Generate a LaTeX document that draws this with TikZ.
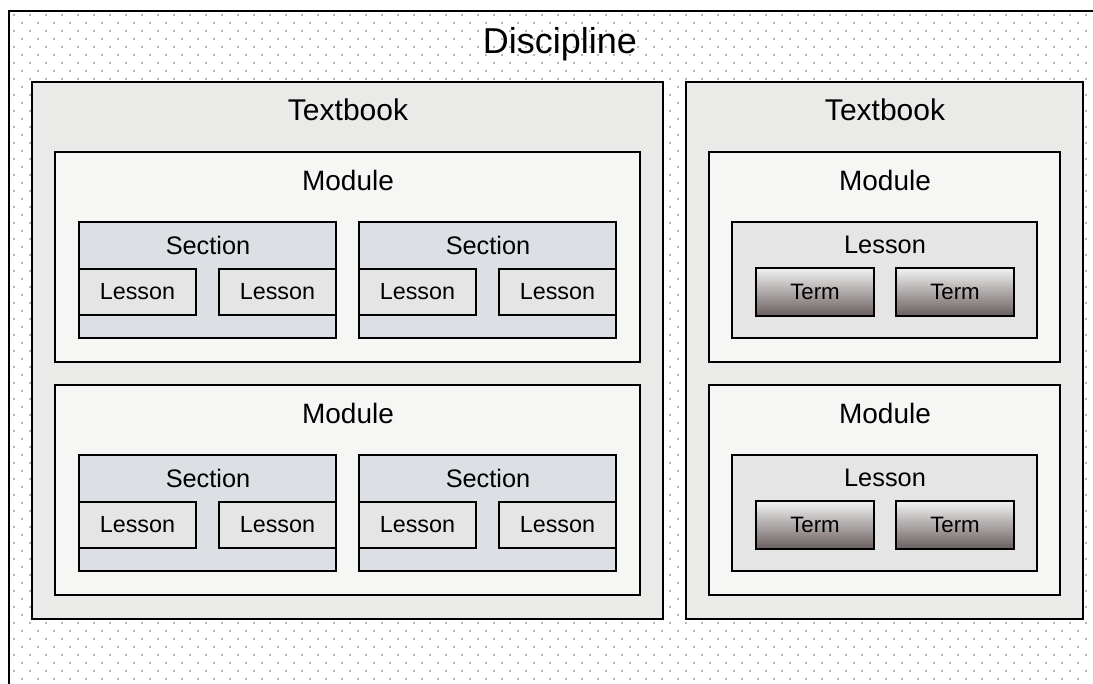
\documentclass[tikz,border=0pt]{standalone}
\usepackage{fontspec}
\setmainfont{Liberation Sans}
\usetikzlibrary{positioning}
\definecolor{dotgrey}{HTML}{6E6E6E}
\definecolor{tbfill}{HTML}{EAEAE8}
\definecolor{modfill}{HTML}{F6F6F4}
\definecolor{secfill}{HTML}{DCE0E4}
\definecolor{lesfill}{HTML}{E5E5E5}
\definecolor{termtop}{HTML}{F2F2F2}
\definecolor{termmid}{HTML}{DEDADA}
\definecolor{termbot}{HTML}{6A5E5E}
\tikzstyle{tbbox} = [draw=black, line width=1.2pt, fill=tbfill]
\tikzstyle{modbox} = [draw=black, line width=1.2pt, fill=modfill]
\tikzstyle{secbox} = [draw=black, line width=1.1pt, fill=secfill]
\tikzstyle{lesbox} = [draw=black, line width=1.1pt, fill=lesfill, rectangle, inner sep=0pt,
   minimum width=87.75pt, minimum height=34.5pt, font=\fontsize{17.5}{20}\selectfont]
\tikzstyle{termbox} = [draw=black, line width=1.1pt, rectangle, inner sep=0pt,
   top color=termtop, middle color=termmid, bottom color=termbot,
   minimum width=88.5pt, minimum height=36pt, font=\fontsize{16.7}{20}\selectfont]
\tikzstyle{disctext} = [inner sep=0pt, font=\fontsize{27}{32}\selectfont]
\tikzstyle{tbtext} = [inner sep=0pt, font=\fontsize{22.5}{27}\selectfont]
\tikzstyle{modtext} = [inner sep=0pt, font=\fontsize{21}{25}\selectfont]
\tikzstyle{sectext} = [inner sep=0pt, font=\fontsize{19}{23}\selectfont]

\begin{document}
\begin{tikzpicture}[x=0.75pt,y=-0.75pt]
  \useasboundingbox (0,0) rectangle (1093,684);
  % dotted ground of the discipline, one path per row
  \foreach \r [evaluate=\r as \off using {8*mod(\r,2)}] in {0,...,83} {
    \fill[dotgrey] \foreach \c in {0,...,67} { (16*\c+\off+14, 8*\r+15) circle (0.7pt) };
  }
  \draw[line width=1.1pt] (1093,11) -- (9,11) -- (9,684);
  \node[disctext] (disc) at (560,44) {Discipline};

  % left textbook
  \draw[tbbox] (32,82) rectangle (663,619);
  \node[tbtext] (tbL) at (348,110) {Textbook};
  \begin{scope}[shift={(0,0)}]
    \draw[modbox] (55,152) rectangle (640,362);
    \node[modtext] (mod) at (348,180) {Module};
    \draw[secbox] (79,222) rectangle (336,338);
    \node[sectext] (secA) at (208,245) {Section};
    \node[lesbox] (lesA1) at (137.5,292) {Lesson};
    \node[lesbox] (lesA2) at (277.5,292) {Lesson};
    \draw[secbox] (359,222) rectangle (616,338);
    \node[sectext] (secB) at (488,245) {Section};
    \node[lesbox] (lesB1) at (417.5,292) {Lesson};
    \node[lesbox] (lesB2) at (557.5,292) {Lesson};
  \end{scope}
  \begin{scope}[shift={(0,233)}]
    \draw[modbox] (55,152) rectangle (640,362);
    \node[modtext] (mod) at (348,180) {Module};
    \draw[secbox] (79,222) rectangle (336,338);
    \node[sectext] (secA) at (208,245) {Section};
    \node[lesbox] (lesA1) at (137.5,292) {Lesson};
    \node[lesbox] (lesA2) at (277.5,292) {Lesson};
    \draw[secbox] (359,222) rectangle (616,338);
    \node[sectext] (secB) at (488,245) {Section};
    \node[lesbox] (lesB1) at (417.5,292) {Lesson};
    \node[lesbox] (lesB2) at (557.5,292) {Lesson};
  \end{scope}

  % right textbook
  \draw[tbbox] (686,82) rectangle (1083,619);
  \node[tbtext] (tbR) at (885,110) {Textbook};
  \begin{scope}[shift={(0,0)}]
    \draw[modbox] (709,152) rectangle (1060,362);
    \node[modtext] (mod) at (885,180) {Module};
    \draw[secbox, fill=lesfill] (732,222) rectangle (1037,338);
    \node[sectext] (les) at (885,245) {Lesson};
    \node[termbox] (term1) at (815,292) {Term};
    \node[termbox] (term2) at (955,292) {Term};
  \end{scope}
  \begin{scope}[shift={(0,233)}]
    \draw[modbox] (709,152) rectangle (1060,362);
    \node[modtext] (mod) at (885,180) {Module};
    \draw[secbox, fill=lesfill] (732,222) rectangle (1037,338);
    \node[sectext] (les) at (885,245) {Lesson};
    \node[termbox] (term1) at (815,292) {Term};
    \node[termbox] (term2) at (955,292) {Term};
  \end{scope}
\end{tikzpicture}
\end{document}
